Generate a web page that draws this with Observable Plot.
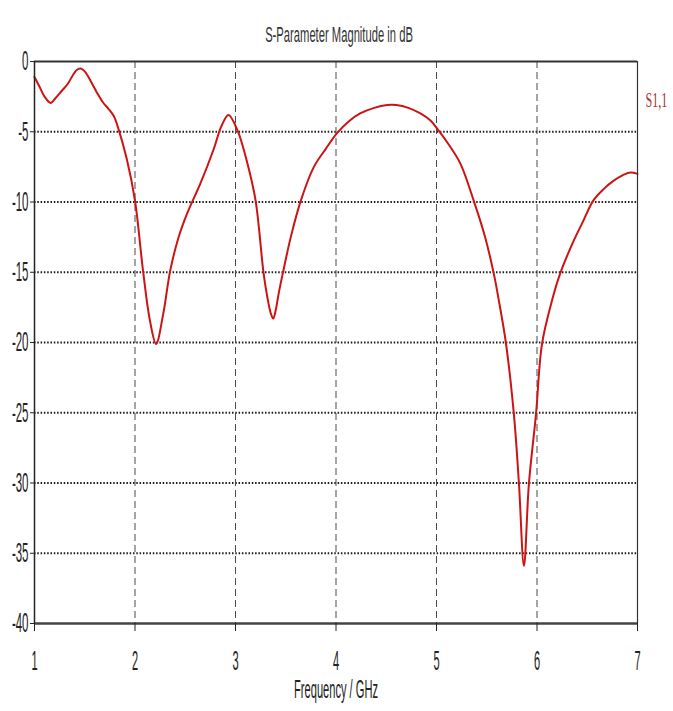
<!DOCTYPE html>
<html>
<head>
<meta charset="utf-8">
<script src="https://cdn.jsdelivr.net/npm/d3@7"></script>
<script src="https://cdn.jsdelivr.net/npm/@observablehq/plot@0.6"></script>
<style>
  html, body { margin: 0; padding: 0; background: white; }
</style>
</head>
<body>
<div id="chart"></div>
<script>
// ---- data ----
const titleText = "S-Parameter Magnitude in dB";
const xLabel = "Frequency / GHz";
const seriesName = "S1,1";
const xTicks = [1, 2, 3, 4, 5, 6, 7];
const yTicks = [0, -5, -10, -15, -20, -25, -30, -35, -40];
const xGrid = [2, 3, 4, 5, 6];
const yGrid = [-5, -10, -15, -20, -25, -30, -35];
const freqGHz = [
  1.00, 1.05, 1.10, 1.16, 1.21, 1.27, 1.33, 1.38, 1.42, 1.46, 1.50, 1.56, 1.62, 1.68, 1.74, 1.79, 1.84, 1.92,
  2.00, 2.08, 2.15, 2.21, 2.28, 2.35, 2.43, 2.52, 2.65, 2.78, 2.86, 2.93,
  3.02, 3.12, 3.20, 3.28, 3.32, 3.35, 3.375, 3.40, 3.43, 3.47, 3.55, 3.65, 3.78, 3.90,
  4.01, 4.12, 4.24, 4.38, 4.51, 4.60, 4.72, 4.84, 4.94,
  5.02, 5.13, 5.24, 5.37, 5.48, 5.57, 5.62, 5.69, 5.77, 5.82, 5.87, 5.92, 5.99,
  6.05, 6.15, 6.23, 6.35, 6.45, 6.56, 6.66, 6.76, 6.85, 6.93, 7.00
];
const s11dB = [
  -1.1, -1.8, -2.5, -2.95, -2.6, -2.1, -1.6, -1.0, -0.6, -0.5, -0.7, -1.4, -2.2, -2.9, -3.4, -3.9, -4.9, -7.0,
  -9.9, -14.9, -18.5, -20.1, -18.0, -14.9, -12.6, -10.8, -8.7, -6.3, -4.6, -3.8,
  -4.9, -7.3, -9.9, -15.1, -16.9, -17.9, -18.3, -17.7, -16.5, -15.1, -12.5, -9.9, -7.5, -6.2,
  -5.1, -4.3, -3.7, -3.3, -3.1, -3.1, -3.3, -3.7, -4.2,
  -4.9, -6.0, -7.3, -9.9, -12.4, -15.1, -17.0, -20.0, -25.1, -30.0, -35.9, -30.0, -25.1,
  -20.1, -17.0, -15.1, -13.0, -11.5, -9.9, -9.1, -8.5, -8.1, -7.9, -8.0
];

const data = freqGHz.map((f, i) => ({f, db: s11dB[i]}));
const font = "'Liberation Sans', Arial, sans-serif";

const plot = Plot.plot({
  width: 673,
  height: 711,
  marginLeft: 34,
  marginRight: 36,
  marginTop: 61,
  marginBottom: 88,
  x: {domain: [1, 7], label: null},
  y: {domain: [-40, 0], label: null},
  style: {fontFamily: font, fontSize: "27px", color: "#222", background: "white"},
  marks: [
    Plot.ruleY(yGrid, {stroke: "#1a1a1a", strokeWidth: 2, strokeDasharray: "1.5,1.8"}),
    Plot.ruleX(xGrid, {stroke: "#4a4a4a", strokeWidth: 1, strokeDasharray: "7,4"}),
    Plot.line(data, {x: "f", y: "db", stroke: "#cc1414", strokeWidth: 2, curve: "catmull-rom"}),
    Plot.ruleY([0], {stroke: "#333", strokeWidth: 2}),
    Plot.ruleY([-40], {stroke: "#444", strokeWidth: 2.5}),
    Plot.ruleX([1], {stroke: "#222", strokeWidth: 1.5}),
    Plot.ruleX([7], {stroke: "#333", strokeWidth: 1.2}),
    Plot.axisX(xTicks, {tickSize: 8, tickPadding: 19, fontSize: 27, tickFormat: d => String(d), label: null}),
    Plot.axisY(yTicks, {tickSize: 4, tickPadding: 2, fontSize: 28, tickFormat: d => String(d), label: null}),
    Plot.text([titleText], {frameAnchor: "top", dy: -35, dx: 3, fontSize: 22, fill: "#333", text: d => d}),
    Plot.text([xLabel], {frameAnchor: "bottom", dy: 74.7, fontSize: 26, fill: "#222", text: d => d}),
    Plot.text([seriesName], {frameAnchor: "top-right", textAnchor: "start", dx: 8, dy: 30, fontSize: 22,
      fontFamily: "'Liberation Serif', 'Times New Roman', serif", fill: "#b03030", text: d => d})
  ]
});

document.getElementById("chart").appendChild(plot);

// condense the text horizontally to match the narrow face of the reference
const squeezeFor = t => {
  const s = t.textContent;
  if (s === titleText) return 0.51;
  if (s === xLabel) return 0.427;
  if (s === seriesName) return 0.55;
  return 0.41;
};
plot.querySelectorAll("text").forEach(t => {
  const tr = t.getAttribute("transform") || "";
  t.setAttribute("transform", tr + ` scale(${squeezeFor(t)},1)`);
});
</script>
</body>
</html>
